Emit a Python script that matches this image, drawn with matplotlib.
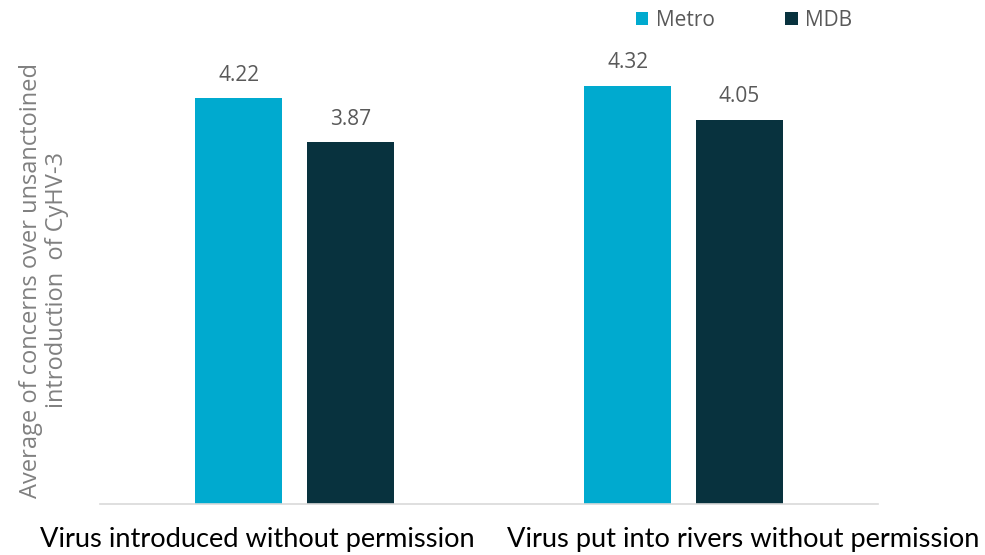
import matplotlib
matplotlib.use("Agg")
import matplotlib.pyplot as plt
import numpy as np

categories = ["Virus introduced without permission", "Virus put into rivers without permission"]
series_names = ["Metro", "MDB"]
metro = [4.22, 4.32]
mdb = [3.87, 4.05]
colors = ["#00AACF", "#08323E"]

W, H = 985, 555
fig = plt.figure(figsize=(W / 100, H / 100), dpi=100)
ax = fig.add_axes([100 / W, 1 - 504 / H, 778 / W, 441 / H])

x = np.arange(len(categories))
bw = 0.224
off = 0.143
b1 = ax.bar(x - off, metro, bw, bottom=0, color=colors[0], label=series_names[0])
b2 = ax.bar(x + off, mdb, bw, bottom=0, color=colors[1], label=series_names[1])

ax.set_xlim(-0.5, 1.5)
ax.set_ylim(1, 4.5)
for bars, vals in ((b1, metro), (b2, mdb)):
    for rect, v in zip(bars, vals):
        ax.text(rect.get_x() + rect.get_width() / 2, v + 0.1, f"{v:.2f}",
                ha="center", va="bottom", fontsize=15, color="#595959",
                family="Open Sans")

for s in ("top", "right", "left"):
    ax.spines[s].set_visible(False)
ax.spines["bottom"].set_color("#D9D9D9")
ax.spines["bottom"].set_linewidth(1.2)
ax.set_yticks([])
ax.set_xticks([])

# category labels
label_x = [257, 743]
for lx, c in zip(label_x, categories):
    fig.text(lx / W, 1 - 540 / H, c, ha="center", va="center", fontsize=19.6,
             color="black", family="Lato")

fig.text(44 / W, 1 - 280 / H,
         "Average of concerns over unsanctoined\nintroduction  of CyHV-3",
         rotation=90, ha="center", va="center", fontsize=17, color="#808080",
         family="Open Sans", multialignment="center", linespacing=1.12)

leg = ax.legend(loc="center", bbox_to_anchor=(744 / W, 1 - 20 / H),
                bbox_transform=fig.transFigure, ncol=2, frameon=False,
                prop={"family": "Open Sans", "size": 15},
                handlelength=0.6, handleheight=0.6, columnspacing=3.4,
                handletextpad=0.35)
for t in leg.get_texts():
    t.set_color("#595959")

fig.savefig("out.png", dpi=100)
